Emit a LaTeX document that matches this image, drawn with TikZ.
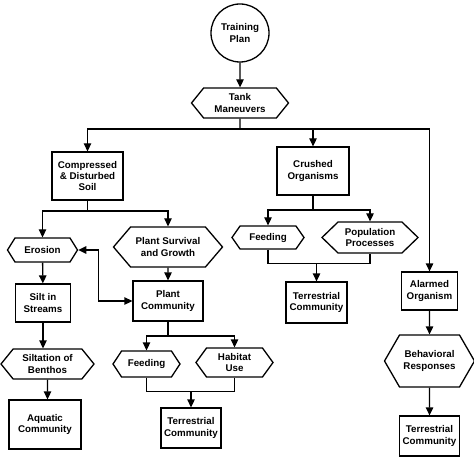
\documentclass[tikz,border=0pt]{standalone}
\usepackage{fontspec}
\setmainfont{Liberation Sans}
\usetikzlibrary{shapes.symbols,arrows.meta}
\begin{document}
\begin{tikzpicture}[x=1bp,y=-1bp,line width=1.3bp,
        every node/.style={font=\fontsize{9.8}{11.5}\selectfont\bfseries, align=center, inner sep=0pt},
        box/.style={draw, rectangle},
        hexa/.style={draw, signal, signal to=west and east, signal pointer angle=#1},
        arr/.style={-{Triangle[length=8bp,width=7.5bp]}},
        arrboth/.style={{Triangle[length=8bp,width=7.5bp]}-{Triangle[length=8bp,width=7.5bp]}}]
        \useasboundingbox (0,0) rectangle (474,457);
        \node [draw, circle, minimum size=58bp] (TP) at (240,33) {Training\\Plan};
        \node [hexa=102, minimum width=97bp, minimum height=30bp] (TM) at (240,103) {Tank\\Maneuvers};
        
        \node [box, minimum width=71bp, minimum height=48bp] (CS) at (87.5,176) {Compressed\\\& Disturbed\\Soil};
        \node [box, minimum width=72bp, minimum height=48bp] (CO) at (313,171) {Crushed\\Organisms};
        \node [box, minimum width=56bp, minimum height=38bp] (AO) at (429.5,291) {Alarmed\\Organism};
        
        \node [hexa=116, minimum width=70bp, minimum height=24bp] (ER) at (42.5,250) {Erosion};
        \node [hexa=99, minimum width=109bp, minimum height=40bp] (PS) at (168,247) {Plant Survival\\and Growth};
        \node [hexa=110, minimum width=72bp, minimum height=23bp] (FE1) at (268,237.5) {Feeding};
        \node [hexa=88, minimum width=96bp, minimum height=31bp] (PP) at (370,237.5) {Population\\Processes};
        
        \node [box, minimum width=55bp, minimum height=38bp] (SI) at (43,303) {Silt in\\Streams};
        \node [box, minimum width=70bp, minimum height=40bp] (PC) at (168,301) {Plant\\Community};
        \node [box, minimum width=61bp, minimum height=41bp] (TC1) at (316.5,302.5) {Terrestrial\\Community};
        
        \node [hexa=102, minimum width=93bp, minimum height=30bp] (SB) at (47.5,364) {Siltation of\\Benthos};
        \node [hexa=113, minimum width=67bp, minimum height=26bp] (FE2) at (146.5,364) {Feeding};
        \node [hexa=108, minimum width=77bp, minimum height=29bp] (HU) at (234.5,362.5) {Habitat\\Use};
        \node [hexa=120, minimum width=90bp, minimum height=52bp] (BR) at (429.5,361) {Behavioral\\Responses};
        
        \node [box, minimum width=72bp, minimum height=49bp] (AQ) at (45,424.5) {Aquatic\\Community};
        \node [box, minimum width=60bp, minimum height=40bp] (TC2) at (191,428) {Terrestrial\\Community};
        \node [box, minimum width=60bp, minimum height=40bp] (TC3) at (429.5,436) {Terrestrial\\Community};
        
        % bus points
        \coordinate (b0) at (240,129);
        \coordinate (b1) at (87.5,211);
        \coordinate (b2) at (313,210);
        \coordinate (b3) at (168,336);
        \coordinate (m1) at (316.5,263);
        \coordinate (m2) at (191,391);
        
        \draw [arr] (TP) -- (TM);
        \draw (TM) -- (b0);
        \draw [arr] (b0) -| (CS.north);
        \draw [arr] (b0) -| (CO.north);
        \draw [arr] (b0) -| (AO.north);
        
        \draw (CS) -- (b1);
        \draw [arr] (b1) -| (ER.north);
        \draw [arr] (b1) -| (PS.north);
        \draw [arr] (ER) -- (SI);
        \draw [arr] (SI) -- (SI |- SB.north);
        \draw [arr] (SB) -- (SB |- AQ.north);
        \draw [arrboth] (ER.east) -- ++(20,0) |- (PC.west);
        
        \draw [arr] (PS) -- (PC);
        \draw (PC) -- (b3);
        \draw [arr] (b3) -| (FE2.north);
        \draw [arr] (b3) -| (HU.north);
        \draw (FE2.south) -- ++(0,14) -| (HU.south);
        \draw [arr] (m2) -- (TC2);
        
        \draw (CO) -- (b2);
        \draw [arr] (b2) -| (FE1.north);
        \draw [arr] (b2) -| (PP.north);
        \draw (FE1.south) -- ++(0,14) -| (PP.south);
        \draw [arr] (m1) -- (TC1);
        
        \draw [arr] (AO) -- (BR);
        \draw [arr] (BR) -- (TC3);
\end{tikzpicture}
\end{document}
